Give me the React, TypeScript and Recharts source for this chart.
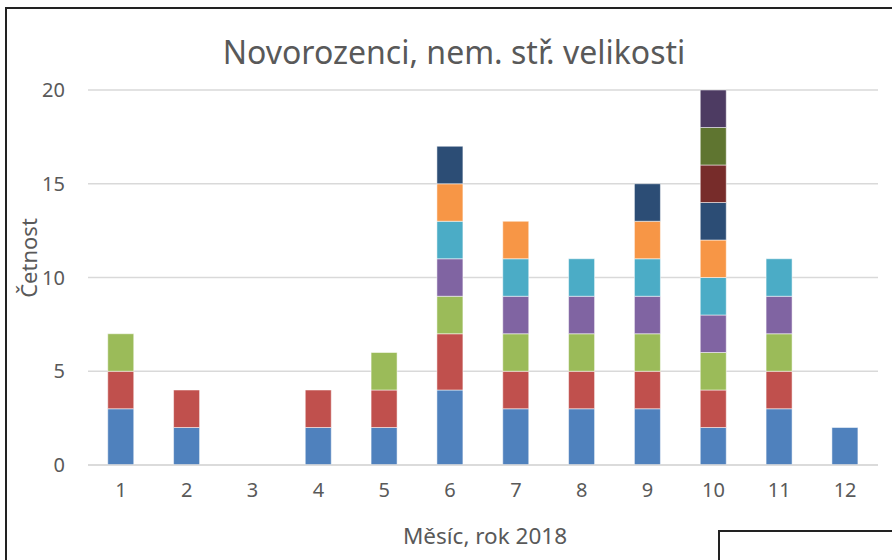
import React from "react";
import { BarChart, Bar, XAxis, YAxis, CartesianGrid } from "recharts";

const months = ["1", "2", "3", "4", "5", "6", "7", "8", "9", "10", "11", "12"];

const s1 = [3, 2, 0, 2, 2, 4, 3, 3, 3, 2, 3, 2];
const s2 = [2, 2, 0, 2, 2, 3, 2, 2, 2, 2, 2, 0];
const s3 = [2, 0, 0, 0, 2, 2, 2, 2, 2, 2, 2, 0];
const s4 = [0, 0, 0, 0, 0, 2, 2, 2, 2, 2, 2, 0];
const s5 = [0, 0, 0, 0, 0, 2, 2, 2, 2, 2, 2, 0];
const s6 = [0, 0, 0, 0, 0, 2, 2, 0, 2, 2, 0, 0];
const s7 = [0, 0, 0, 0, 0, 2, 0, 0, 2, 2, 0, 0];
const s8 = [0, 0, 0, 0, 0, 0, 0, 0, 0, 2, 0, 0];
const s9 = [0, 0, 0, 0, 0, 0, 0, 0, 0, 2, 0, 0];
const s10 = [0, 0, 0, 0, 0, 0, 0, 0, 0, 2, 0, 0];

const yTicks = [0, 5, 10, 15, 20];

const series = [s1, s2, s3, s4, s5, s6, s7, s8, s9, s10];
const colors = [
  "#4F81BD",
  "#C0504D",
  "#9BBB59",
  "#8064A2",
  "#4BACC6",
  "#F79646",
  "#2C4D75",
  "#772C2A",
  "#5F7530",
  "#4D3B62",
];

const data = months.map((m, i) => {
  const row: Record<string, string | number> = { month: m };
  series.forEach((s, k) => {
    row["s" + (k + 1)] = s[i];
  });
  return row;
});

const font = "'Noto Sans', sans-serif";
const grey = "#595959";

export default function App() {
  return (
    <div
      style={{
        position: "absolute",
        left: 0,
        top: 0,
        width: 892,
        height: 560,
        background: "#fff",
        overflow: "hidden",
        fontFamily: font,
      }}
    >
      <div
        style={{
          position: "absolute",
          left: 5,
          top: 7,
          width: 900,
          height: 600,
          border: "2px solid #222",
          boxSizing: "border-box",
        }}
      />
      <div
        style={{
          position: "absolute",
          left: 718,
          top: 530,
          width: 200,
          height: 60,
          border: "2px solid #222",
          boxSizing: "border-box",
        }}
      />
      <div
        style={{
          position: "absolute",
          left: 0,
          width: 908,
          top: 32,
          textAlign: "center",
          fontSize: 32,
          color: grey,
          lineHeight: "40px",
        }}
      >
        Novorozenci, nem. stř. velikosti
      </div>
      <div
        style={{
          position: "absolute",
          left: 28,
          top: 258,
          transform: "translate(-50%, -50%) rotate(-90deg)",
          fontSize: 22,
          color: grey,
          whiteSpace: "nowrap",
        }}
      >
        Četnost
      </div>
      <div
        style={{
          position: "absolute",
          left: 485,
          top: 535,
          transform: "translate(-50%, -50%)",
          fontSize: 22.5,
          color: grey,
          whiteSpace: "nowrap",
        }}
      >
        Měsíc, rok 2018
      </div>
      <div style={{ position: "absolute", left: 0, top: 0 }}>
        <BarChart
          width={892}
          height={560}
          data={data}
          barCategoryGap="30%"
          margin={{ top: 90, right: 14, left: 28, bottom: 65 }}
        >
          <CartesianGrid vertical={false} stroke="#d9d9d9" strokeWidth={1.5} />
          <XAxis
            dataKey="month"
            height={30}
            tickLine={false}
            axisLine={{ stroke: "#d9d9d9", strokeWidth: 1.5 }}
            tick={{ fill: grey, fontSize: 20, fontFamily: font }}
            tickMargin={12}
          />
          <YAxis
            width={60}
            domain={[0, 20]}
            ticks={yTicks}
            tickLine={false}
            axisLine={false}
            tick={{ fill: grey, fontSize: 20, fontFamily: font }}
            tickMargin={17}
          />
          {series.map((_, k) => (
            <Bar
              key={k}
              dataKey={"s" + (k + 1)}
              stackId="a"
              fill={colors[k]}
              stroke="#ffffff"
              strokeOpacity={0.5}
              strokeWidth={1}
              isAnimationActive={false}
            />
          ))}
        </BarChart>
      </div>
    </div>
  );
}
